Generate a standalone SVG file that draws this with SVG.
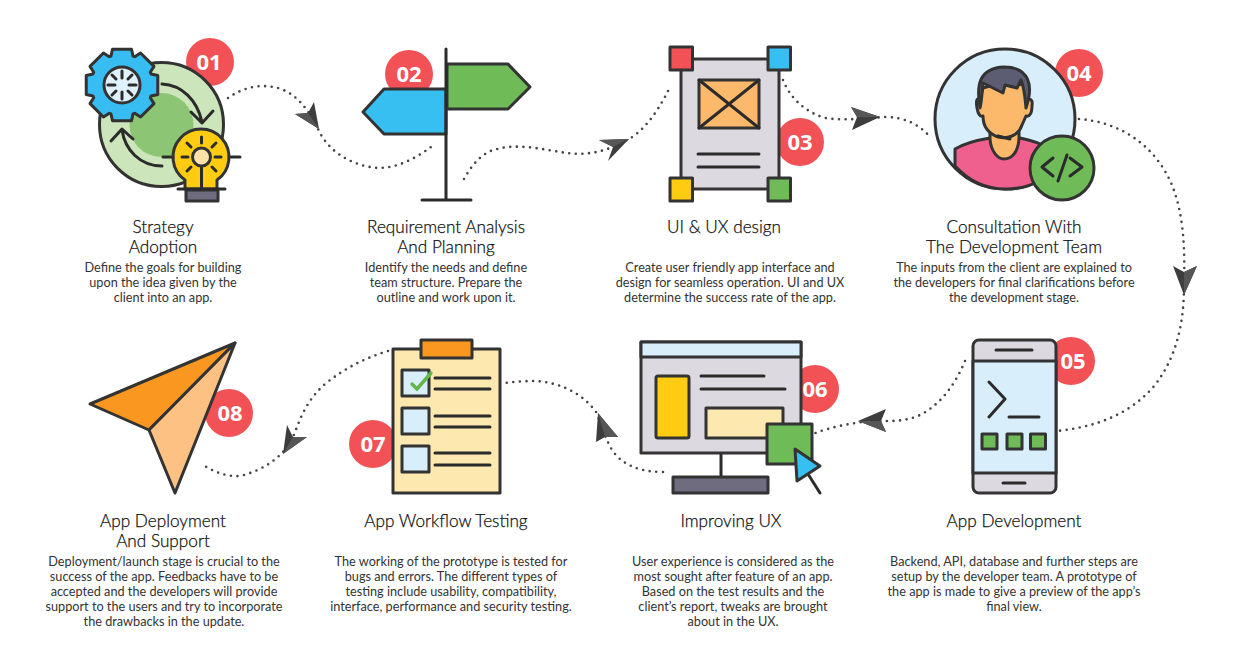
<svg xmlns="http://www.w3.org/2000/svg" width="1246" height="648" viewBox="0 0 1246 648">
<style>
.o{stroke:#333;stroke-width:3;stroke-linejoin:round;stroke-linecap:round}
.l{fill:none;stroke:#2b2b2b;stroke-width:3;stroke-linecap:round;stroke-linejoin:round}
.d{fill:none;stroke:#444;stroke-width:2.6;stroke-linecap:round;stroke-dasharray:0 6.6}
.a{fill:#3d3d3d}.b{fill:#565656}
.bd{fill:#f25256}
.bt{font:700 22px "Open Sans","Noto Sans",sans-serif;fill:#fff;text-anchor:middle}
.t{font:300 17.2px Lato,"Open Sans",sans-serif;fill:#111;stroke:#111;stroke-width:.25;text-anchor:middle}
.p{font:400 12.7px Lato,"Open Sans",sans-serif;fill:#333;text-anchor:middle}
</style>
<rect width="1246" height="648" fill="#fff"/>
<g id="connectors">
<path class="d" d="M228,98 C245,86 262,84 278,88 C298,94 310,112 320,133 C330,152 352,166 378,168 C398,168 416,158 431,147"/>
<path class="a" d="M319,129 L295,114 L308,113 L314,102Z"/><path class="b" d="M319,129 L308,113 L295,114Z"/>
<path class="d" d="M464,179 C472,165 482,152 497,149 C520,143 545,150 567,153 C590,156 610,150 629,139 C640,133 655,118 670,87"/>
<path class="a" d="M629,139 L599,140 L613,147 L608,161Z"/><path class="b" d="M629,139 L599,140 L613,147Z"/>
<path class="d" d="M783,80 C790,98 805,112 825,118 C845,121 865,118 885,117 C905,117 920,125 930,137"/>
<path class="a" d="M880,117 L851,107 L857,117 L852,130Z"/><path class="b" d="M880,117 L851,107 L857,117Z"/>
<path class="d" d="M1079,119 C1120,122 1155,145 1172,185 C1184,215 1185,250 1184,285 C1184,320 1178,355 1155,385 C1130,415 1095,427 1057,431"/>
<path class="a" d="M1184,295 L1173,266 L1184,272 L1197,266Z"/><path class="b" d="M1184,295 L1184,272 L1197,266Z"/>
<path class="d" d="M965,361 C955,385 940,405 920,415 C905,422 890,421 875,421 C855,422 830,427 813,434"/>
<path class="a" d="M858,421 L886,409 L881,421 L886,432Z"/><path class="b" d="M858,421 L881,421 L886,432Z"/>
<path class="d" d="M663,472 C640,472 622,465 612,450 C604,436 602,425 596,412 C580,390 555,382 535,381 C522,381 512,382 505,383"/>
<path class="a" d="M598,413 L596,442 L605,437 L618,437Z"/><path class="b" d="M598,413 L605,437 L618,437Z"/>
<path class="d" d="M388,351 C365,358 345,368 325,384 C305,402 300,420 293,437 C285,455 265,470 240,476 C225,477 213,471 203,465"/>
<path class="a" d="M283,454 L287,425 L293,437 L307,437Z"/><path class="b" d="M283,454 L293,437 L307,437Z"/>
</g>
<g id="node-1">
<circle class="bd" cx="210" cy="62" r="24"/>
<circle class="o" cx="161.5" cy="124.5" r="62" fill="#cde5ba"/>
<circle cx="161.5" cy="125" r="32" fill="#8cc574"/>
<path class="l" d="M162,84 C182,85 197,100 202,122M191,112 L202,123 L213,111M162,166 C140,166 125,150 122,130M111,141 L122,129 L133,139M163,157H173M230,157H240"/>
<path class="o" transform="translate(122 85)" fill="#37bdf1" d="M-11,-28.98 -9.5,-35.76 9.5,-35.76 11,-28.98 12.71,-28.27 18.57,-32 32,-18.57 28.27,-12.71 28.98,-11 35.76,-9.5 35.76,9.5 28.98,11 28.27,12.71 32,18.57 18.57,32 12.71,28.27 11,28.98 9.5,35.76 -9.5,35.76 -11,28.98 -12.71,28.27 -18.57,32 -32,18.57 -28.27,12.71 -28.98,11 -35.76,9.5 -35.76,-9.5 -28.98,-11 -28.27,-12.71 -32,-18.57 -18.57,-32 -12.71,-28.27Z"/>
<circle class="o" cx="122" cy="85" r="18" fill="#dff1fc"/>
<path class="l" stroke-width="2.5" d="M122,71V78M122,92V99M108,85H115M129,85H136M112,75L116,79M128,91L132,95M132,75L128,79M116,91L112,95"/>
<path class="o" fill="#ffcc12" d="M185,189V180A28,28 0 1 1 217,180V189Z"/>
<rect class="o" x="186" y="190" width="32" height="11" fill="#6f6c80"/>
<path class="l" d="M178,189H225M201.500,166V189M201.500,137V143M182,157H188M215,157H221M187,143L191,147M216,143L212,147M187,171L191,167M216,171L212,167"/>
<circle class="o" cx="201.500" cy="157" r="9" fill="#fde3a7"/>
<text class="bt" x="209" y="69.500">01</text>
</g>
<g id="node-2">
<circle class="bd" cx="409" cy="74" r="24"/>
<path class="o" fill="#6fbb58" d="M447,64H508L530,87L508,109H447Z"/>
<path class="o" fill="#37bff2" d="M446,89H384L363,112L384,134H446Z"/>
<path class="l" d="M446,49V200M422,200H471"/>
<text class="bt" x="409" y="81.500">02</text>
</g>
<g id="node-3">
<circle class="bd" cx="800" cy="142" r="24"/>
<rect class="o" x="681" y="59" width="98" height="130" fill="#dcdae0"/>
<rect class="o" x="699" y="80" width="60" height="48" fill="#fdb96b"/>
<path class="l" d="M699,80L759,128M759,80L699,128M698,154H759M698,167H759"/>
<rect class="o" x="670" y="47" width="22.500" height="23" fill="#f25256"/>
<rect class="o" x="768" y="47" width="22.500" height="23" fill="#37bff2"/>
<rect class="o" x="670" y="178" width="22.500" height="23" fill="#ffcc12"/>
<rect class="o" x="768" y="178" width="22.500" height="23" fill="#6fbb58"/>
<text class="bt" x="800" y="149.500">03</text>
</g>
<g id="node-4">
<circle class="bd" cx="1079" cy="73" r="24"/>
<circle class="o" cx="1005" cy="119" r="70" fill="#d9eefb"/>
<path class="o" fill="#f0608f" d="M955,149C965,143 978,140 990,138L1020,138C1030,140 1040,143 1048,148L1040,180C1030,187 1018,189 1005,189C985,189 968,180 955,166Z"/>
<path class="o" fill="#fdb96b" d="M990,125V139C991,152 998,159 1004,159C1012,159 1018,152 1019,139V125Z"/>
<path class="o" fill="#fdb96b" d="M983,88L980,99C976,98 976,102 977,108C978,114 980,117 983,116C983,125 987,133 998,137C1006,139 1018,137 1022,125L1026,116C1030,117 1032,113 1032,105C1033,100 1030,98 1027,100L1025,85L1004,82Z"/>
<path class="l" d="M998,136L1010,139"/>
<path class="o" fill="#5c5c72" d="M980,108C976,85 979,68 1004,67C1029,67 1034,85 1026,108C1025,100 1025,90 1021,80L1017,88L1005,85L1003,93L983,83C982,90 982,100 980,108Z"/>
<circle class="o" cx="1062" cy="168" r="32" fill="#6fbb58"/>
<path class="l" d="M1053,158L1042,167L1053,176M1067,155L1058,181M1070,158L1082,167L1070,176"/>
<text class="bt" x="1079" y="80.500">04</text>
</g>
<g id="node-5">
<circle class="bd" cx="1071" cy="361" r="24"/>
<rect class="o" x="973" y="340" width="83" height="153" rx="6" fill="#dcdae0"/>
<rect class="o" x="973" y="361" width="83" height="112" fill="#d9eefb"/>
<path class="l" d="M996,350H1032M1003,483H1025M989,382L1005,399L989,417M1009,417H1039"/>
<rect class="o" x="982" y="434" width="15" height="15" fill="#6fbb58"/>
<rect class="o" x="1007" y="434" width="15" height="15" fill="#6fbb58"/>
<rect class="o" x="1030.500" y="434" width="15" height="15" fill="#6fbb58"/>
<text class="bt" x="1073" y="368.500">05</text>
</g>
<g id="node-6">
<circle class="bd" cx="815" cy="389" r="24"/>
<text class="bt" x="815" y="396.500">06</text>
<path class="l" d="M721,453V476"/>
<rect class="o" x="641" y="342" width="160" height="111" fill="#dcdae0"/>
<rect class="o" x="641" y="342" width="160" height="15" fill="#d9eefb"/>
<rect class="o" x="656" y="376" width="33" height="62" rx="2" fill="#ffcc12"/>
<path class="l" d="M701,376H764M701,389H785"/>
<rect class="o" x="706" y="408" width="77" height="30" fill="#fde9b0"/>
<rect class="o" x="673" y="477" width="95" height="16" fill="#6f6c80"/>
<rect class="o" x="767" y="424" width="45" height="40" fill="#6fbb58"/>
<path class="l" d="M808,474L820,493"/>
<path class="o" fill="#37bff2" d="M795,449L820,466L797,481Z"/>
</g>
<g id="node-7">
<circle class="bd" cx="373" cy="444" r="24"/>
<rect class="o" x="393" y="349" width="107" height="144" fill="#fde9b0"/>
<rect class="o" x="421" y="340" width="51" height="18" fill="#f99721"/>
<rect class="o" x="402" y="370" width="27" height="26" fill="#d9eefb"/>
<rect class="o" x="402" y="408" width="27" height="26" fill="#d9eefb"/>
<rect class="o" x="402" y="446" width="27" height="26" fill="#d9eefb"/>
<path class="l" d="M435,378H490M435,389H490M435,416H490M435,427H490M435,453H490M435,465H490"/>
<path d="M412,384L417,389L431,373" fill="none" stroke="#63b64a" stroke-width="3.500" stroke-linecap="round"/>
<text class="bt" x="373" y="451.500">07</text>
</g>
<g id="node-8">
<circle class="bd" cx="229" cy="413" r="24"/>
<path class="o" fill="#f99721" d="M235,343L90,404L149,430Z"/>
<path class="o" fill="#fdc283" d="M235,343L149,430L175,493Z"/>
<text class="bt" x="230" y="420.500">08</text>
</g>
<g id="labels" transform="translate(0 1)">
<text class="t" x="163" y="232">Strategy</text><text class="t" x="163" y="252">Adoption</text>
<text class="p" x="163" y="271">Define the goals for building</text><text class="p" x="163" y="286">upon the idea given by the</text><text class="p" x="163" y="301">client into an app.</text>
<text class="t" x="446" y="232">Requirement Analysis</text><text class="t" x="446" y="252">And Planning</text>
<text class="p" x="446" y="271">Identify the needs and define</text><text class="p" x="446" y="286">team structure. Prepare the</text><text class="p" x="446" y="301">outline and work upon it.</text>
<text class="t" x="724" y="232">UI &amp; UX design</text>
<text class="p" x="730" y="271">Create user friendly app interface and</text><text class="p" x="730" y="286">design for seamless operation. UI and UX</text><text class="p" x="730" y="301">determine the success rate of the app.</text>
<text class="t" x="1014" y="232">Consultation With</text><text class="t" x="1014" y="252">The Development Team</text>
<text class="p" x="1014" y="271">The inputs from the client are explained to</text><text class="p" x="1014" y="286">the developers for final clarifications before</text><text class="p" x="1014" y="301">the development stage.</text>
<text class="t" x="163" y="526">App Deployment</text><text class="t" x="163" y="546">And Support</text>
<text class="p" x="164" y="565">Deployment/launch stage is crucial to the</text><text class="p" x="164" y="580">success of the app. Feedbacks have to be</text><text class="p" x="164" y="595">accepted and the developers will provide</text><text class="p" x="164" y="610">support to the users and try to incorporate</text><text class="p" x="164" y="625">the drawbacks in the update.</text>
<text class="t" x="446" y="526">App Workflow Testing</text>
<text class="p" x="451" y="565">The working of the prototype is tested for</text><text class="p" x="451" y="580">bugs and errors. The different types of</text><text class="p" x="451" y="595">testing include usability, compatibility,</text><text class="p" x="451" y="610">interface, performance and security testing.</text>
<text class="t" x="731" y="526">Improving UX</text>
<text class="p" x="733" y="565">User experience is considered as the</text><text class="p" x="733" y="580">most sought after feature of an app.</text><text class="p" x="733" y="595">Based on the test results and the</text><text class="p" x="733" y="610">client’s report, tweaks are brought</text><text class="p" x="733" y="625">about in the UX.</text>
<text class="t" x="1014" y="526">App Development</text>
<text class="p" x="1014" y="565">Backend, API, database and further steps are</text><text class="p" x="1014" y="580">setup by the developer team. A prototype of</text><text class="p" x="1014" y="595">the app is made to give a preview of the app’s</text><text class="p" x="1014" y="610">final view.</text>
</g>
</svg>
